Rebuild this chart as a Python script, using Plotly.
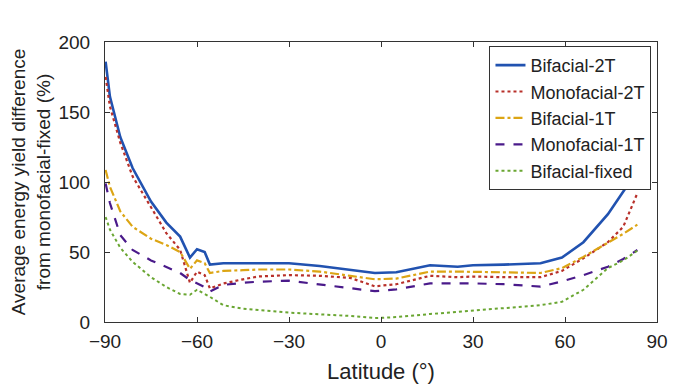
import plotly.graph_objects as go

latitude = [-89.8, -88.4, -85, -81, -75, -70, -65.5, -62.3, -60, -57.5, -55.8, -51.4, -45, -40, -30,
            -20, -10, -2, 5, 16, 25, 30, 40, 52, 59, 66, 74, 79, 83.6]

bifacial_2t = [186, 161, 132, 110, 86, 71, 61, 46, 52, 50, 41, 42, 42, 42, 42,
               40, 37.5, 35, 35.5, 40.5, 39.5, 40.5, 41, 42, 46, 57, 77, 93, 108]
monofacial_2t = [175, 154, 128, 104, 82, 63.5, 51.5, 28, 36, 33.5, 24, 27.5, 30.5, 32.5, 33.5,
                 33, 31.5, 25.5, 27, 33, 32, 32.5, 32, 32, 36.5, 45.5, 57, 68, 92]
bifacial_1t = [108.6, 96.6, 79, 68, 59.5, 55, 50, 38, 44, 42, 35, 36.5, 37, 37.5, 37.5,
               36, 33, 30.5, 31, 36, 36, 36, 35.5, 35, 38.5, 46.5, 56.5, 63, 69.5]
monofacial_1t = [99, 85, 62, 51.5, 44, 39, 35, 30, 27.6, 25, 21.7, 26.5, 28, 28.8, 29.5,
                 27, 24, 22, 23.3, 27.6, 27.6, 27.6, 27, 25.3, 29, 33.5, 39.5, 45, 51.4]
bifacial_fixed = [75, 66, 53, 43, 32, 25, 20, 19.5, 23, 20, 18, 12, 9.5, 8.5, 6.7,
                  5.5, 4.3, 2.8, 3.5, 5.7, 7.3, 8.6, 10, 12, 14.5, 23, 38.5, 44, 51]

x_ticks = [-90, -60, -30, 0, 30, 60, 90]
y_ticks = [0, 50, 100, 150, 200]

series = [
    ("Bifacial-2T", bifacial_2t, "#2152b0", "solid", 2.6),
    ("Monofacial-2T", monofacial_2t, "#b8302a", "dot", 2.2),
    ("Bifacial-1T", bifacial_1t, "#dca514", "dashdot", 2.2),
    ("Monofacial-1T", monofacial_1t, "#4a1a8a", "dash", 2.2),
    ("Bifacial-fixed", bifacial_fixed, "#6aa632", "dot", 2.0),
]

fig = go.Figure()
for name, vals, color, dash, w in series:
    fig.add_trace(go.Scatter(x=latitude, y=vals, mode="lines", name=name,
                             line=dict(color=color, dash=dash, width=w)))

axis_common = dict(showline=True, linecolor="#333", linewidth=1, mirror="ticks",
                   ticks="inside", ticklen=5, tickcolor="#333", showgrid=False, zeroline=False,
                   automargin=False, tickfont=dict(size=19, color="#222"))

fig.update_xaxes(range=[-90, 90], tickvals=x_ticks, ticklabelstandoff=2,
                 title=dict(text="Latitude (°)", font=dict(size=22, color="#222"), standoff=12),
                 **axis_common)
fig.update_yaxes(range=[0, 200], tickvals=y_ticks, ticklabelstandoff=10,
                 title=dict(text="Average energy yield difference<br>from monofacial-fixed (%)",
                            font=dict(size=19, color="#222"), standoff=6),
                 **axis_common)

fig.update_layout(
    width=670, height=376,
    margin=dict(l=97, r=21, t=34, b=62),
    paper_bgcolor="white", plot_bgcolor="white",
    font=dict(family="Liberation Sans, Arial, sans-serif", color="#222"),
    legend=dict(x=0.99, y=0.986, xanchor="right", yanchor="top",
                bordercolor="#333", borderwidth=1, bgcolor="white",
                font=dict(size=18, color="#222"), tracegroupgap=0, itemwidth=30),
    showlegend=True,
)

fig.write_html("out.html")
